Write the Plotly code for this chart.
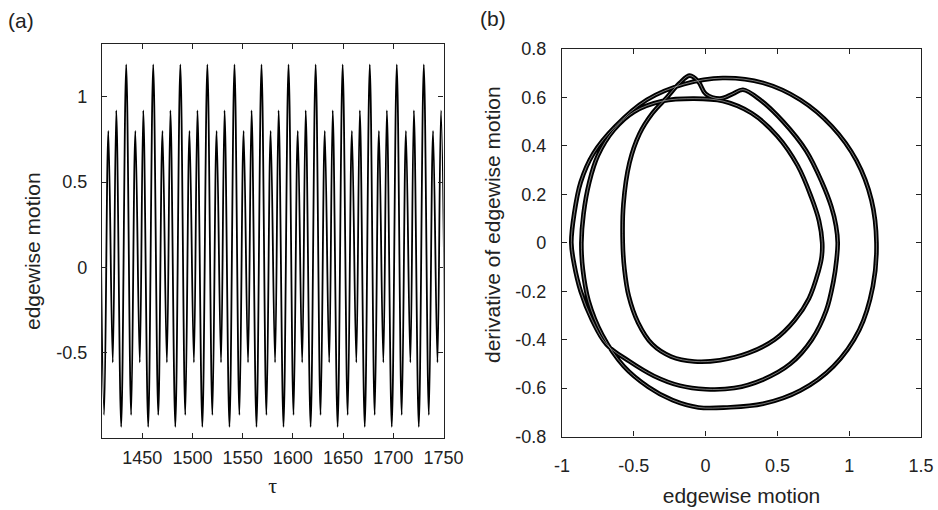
import plotly.graph_objects as go

# ---------------- data: panel (a) time series (extrema) ----------------
tau_ext = [1407.1,
           1412.1, 1416.3, 1420.7, 1424.2, 1429.1, 1434.1,
           1439.0, 1443.2, 1447.6, 1451.1, 1456.0, 1461.0,
           1466.0, 1470.2, 1474.6, 1478.1, 1483.0, 1488.0,
           1492.9, 1497.1, 1501.5, 1505.0, 1509.9, 1514.9,
           1519.9, 1524.1, 1528.5, 1532.0, 1536.9, 1541.9,
           1546.8, 1551.0, 1555.4, 1558.9, 1563.8, 1568.8,
           1573.7, 1577.9, 1582.3, 1585.8, 1590.7, 1595.7,
           1600.7, 1604.9, 1609.3, 1612.8, 1617.7, 1622.7,
           1627.6, 1631.8, 1636.2, 1639.7, 1644.6, 1649.6,
           1654.6, 1658.8, 1663.2, 1666.7, 1671.6, 1676.6,
           1681.5, 1685.7, 1690.1, 1693.6, 1698.5, 1703.5,
           1708.4, 1712.6, 1717.0, 1720.5, 1725.4, 1730.4,
           1735.4, 1739.6, 1744.0, 1747.5, 1752.4]
edge_ext = [1.19,
            -0.865, 0.80, -0.557, 0.92, -0.935, 1.19,
            -0.865, 0.80, -0.557, 0.92, -0.935, 1.19,
            -0.865, 0.80, -0.557, 0.92, -0.935, 1.19,
            -0.865, 0.80, -0.557, 0.92, -0.935, 1.19,
            -0.865, 0.80, -0.557, 0.92, -0.935, 1.19,
            -0.865, 0.80, -0.557, 0.92, -0.935, 1.19,
            -0.865, 0.80, -0.557, 0.92, -0.935, 1.19,
            -0.865, 0.80, -0.557, 0.92, -0.935, 1.19,
            -0.865, 0.80, -0.557, 0.92, -0.935, 1.19,
            -0.865, 0.80, -0.557, 0.92, -0.935, 1.19,
            -0.865, 0.80, -0.557, 0.92, -0.935, 1.19,
            -0.865, 0.80, -0.557, 0.92, -0.935, 1.19,
            -0.865, 0.80, -0.557, 0.92, -0.935]

# ---------------- data: panel (b) phase portrait (points read along the orbit) ----------------
phase_x = [
    # upper arc from -0.865 to 0.815
    -0.865, -0.85, -0.81, -0.75, -0.64, -0.50, -0.30, -0.08, 0.12, 0.32, 0.50, 0.64, 0.735, 0.79, 0.812,
    # lower arc from 0.815 to -0.575
    0.808, 0.785, 0.72, 0.62, 0.48, 0.30, 0.10, -0.08, -0.24, -0.37, -0.47, -0.535, -0.565, -0.577,
    # upper arc (with bumps) from -0.575 to 0.92
    -0.572, -0.53, -0.46, -0.37, -0.27, -0.18, -0.11, -0.05, 0.0, 0.10, 0.19, 0.26, 0.38, 0.54,
    0.70, 0.81, 0.875, 0.908, 0.92,
    # lower arc from 0.92 to -0.935
    0.912, 0.89, 0.84, 0.74, 0.59, 0.40, 0.20, 0.0, -0.18, -0.36, -0.53, -0.69, -0.79, -0.87, -0.915,
    -0.935,
    # upper outer arc from -0.935 to 1.19
    -0.915, -0.87, -0.78, -0.63, -0.41, -0.15, 0.12, 0.40, 0.66, 0.88, 1.05, 1.155, 1.19,
    # lower outer arc from 1.19 to -0.865
    1.165, 1.07, 0.89, 0.66, 0.40, 0.15, -0.05, -0.23, -0.40, -0.57, -0.72, -0.815, -0.855, -0.865,
]
phase_y = [
    0.0, 0.12, 0.25, 0.36, 0.465, 0.54, 0.585, 0.595, 0.585, 0.535, 0.44, 0.32, 0.19, 0.09, 0.0,
    -0.06, -0.12, -0.23, -0.32, -0.40, -0.455, -0.485, -0.49, -0.47, -0.42, -0.33, -0.22, -0.11, 0.0,
    0.16, 0.33, 0.45, 0.535, 0.60, 0.66, 0.69, 0.665, 0.615, 0.595, 0.615, 0.632, 0.59, 0.50,
    0.38, 0.25, 0.15, 0.07, 0.0,
    -0.07, -0.16, -0.28, -0.40, -0.50, -0.565, -0.60, -0.605, -0.59, -0.55, -0.49, -0.42, -0.32, -0.20, -0.09,
    0.0,
    0.12, 0.25, 0.37, 0.48, 0.59, 0.655, 0.68, 0.66, 0.59, 0.48, 0.34, 0.176, 0.0,
    -0.18, -0.36, -0.51, -0.61, -0.665, -0.68, -0.68, -0.65, -0.595, -0.51, -0.38, -0.24, -0.11, 0.0,
]

# ---------------- tick labels ----------------
a_xticks = [1450, 1500, 1550, 1600, 1650, 1700, 1750]
a_xlabels = ["1450", "1500", "1550", "1600", "1650", "1700", "1750"]
a_yticks = [-0.5, 0, 0.5, 1]
a_ylabels = ["-0.5", "0", "0.5", "1"]
b_xticks = [-1, -0.5, 0, 0.5, 1, 1.5]
b_xlabels = ["-1", "-0.5", "0", "0.5", "1", "1.5"]
b_yticks = [-0.8, -0.6, -0.4, -0.2, 0, 0.2, 0.4, 0.6, 0.8]
b_ylabels = ["-0.8", "-0.6", "-0.4", "-0.2", "0", "0.2", "0.4", "0.6", "0.8"]

W, H = 938, 510
FONT = "Liberation Sans, Arial, sans-serif"
TXT = "#222222"

fig = go.Figure()
fig.add_trace(go.Scatter(x=tau_ext, y=edge_ext, mode="lines",
                         line=dict(color="#000000", width=1.8, shape="spline", smoothing=1),
                         xaxis="x", yaxis="y", showlegend=False, hoverinfo="skip"))
fig.add_trace(go.Scatter(x=phase_x, y=phase_y, mode="lines",
                         line=dict(color="#000000", width=4.6, shape="spline", smoothing=1),
                         xaxis="x2", yaxis="y2", showlegend=False, hoverinfo="skip"))
fig.add_trace(go.Scatter(x=phase_x, y=phase_y, mode="lines",
                         line=dict(color="rgba(255,255,255,0.6)", width=0.8, shape="spline", smoothing=1),
                         xaxis="x2", yaxis="y2", showlegend=False, hoverinfo="skip"))

axis_common = dict(showline=True, linecolor="#222222", linewidth=1.3, mirror="allticks",
                   ticks="inside", ticklen=5, tickwidth=1, tickcolor="#222222",
                   showgrid=False, zeroline=False, automargin=False,
                   tickfont=dict(family=FONT, size=18, color=TXT))

def px_x(p):
    return p / W

def px_y(p):
    return 1 - p / H

fig.update_layout(
    width=W, height=H,
    margin=dict(l=0, r=0, t=0, b=0),
    paper_bgcolor="white", plot_bgcolor="white",
    xaxis=dict(axis_common, domain=[px_x(102), px_x(443.5)], anchor="y",
               range=[1410, 1750], tickmode="array", tickvals=a_xticks, ticktext=a_xlabels,
               ticklabelstandoff=3,
               title=dict(text="τ", font=dict(family="Liberation Serif, serif", size=22, color=TXT),
                          standoff=10)),
    yaxis=dict(axis_common, domain=[px_y(438), px_y(44)], anchor="x",
               range=[-1.0, 1.31], tickmode="array", tickvals=a_yticks, ticktext=a_ylabels,
               ticklabelstandoff=10),
    xaxis2=dict(axis_common, domain=[px_x(562), px_x(921)], anchor="y2",
                range=[-1, 1.5], tickmode="array", tickvals=b_xticks, ticktext=b_xlabels,
                ticklabelstandoff=13,
                title=dict(text="edgewise motion", font=dict(family=FONT, size=21, color=TXT),
                           standoff=13)),
    yaxis2=dict(axis_common, domain=[px_y(436.5), px_y(49)], anchor="x2",
                range=[-0.8, 0.8], tickmode="array", tickvals=b_yticks, ticktext=b_ylabels,
                ticklabelstandoff=11),
    annotations=[
        dict(text="(a)", x=px_x(6), y=px_y(21), xref="paper", yref="paper",
             xanchor="left", yanchor="middle", showarrow=False,
             font=dict(family=FONT, size=21, color=TXT)),
        dict(text="(b)", x=px_x(478), y=px_y(19), xref="paper", yref="paper",
             xanchor="left", yanchor="middle", showarrow=False,
             font=dict(family=FONT, size=21, color=TXT)),
        dict(text="edgewise motion", x=px_x(32), y=px_y(251), xref="paper", yref="paper",
             xanchor="center", yanchor="middle", textangle=-90, showarrow=False,
             font=dict(family=FONT, size=21, color=TXT)),
        dict(text="derivative of edgewise motion", x=px_x(492), y=px_y(225), xref="paper", yref="paper",
             xanchor="center", yanchor="middle", textangle=-90, showarrow=False,
             font=dict(family=FONT, size=21, color=TXT)),
    ],
)

fig.write_html("out.html")
